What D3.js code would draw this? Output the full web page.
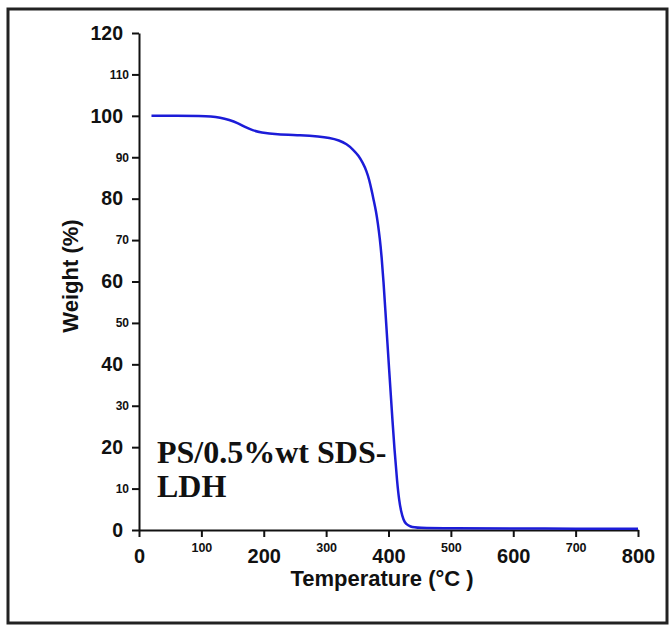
<!DOCTYPE html>
<html>
  <head>
    <script src="https://d3js.org/d3.v7.min.js"></script>
    <style>
      body { margin: 0; background: #fff; }
      svg { display: block; }
    </style>
  </head>
  <body>
    <div id="chart"></div>
    <script>
      // TGA curve
      const temperature = [20, 60, 100, 115, 130, 145, 158, 170, 182, 195, 220, 260, 289, 305, 321, 333, 343, 352, 359, 365, 369, 373, 376, 380, 383, 386, 389, 392, 395, 398, 401, 405, 409.6, 414, 417, 420, 424, 428, 435, 445, 500, 600, 700, 800];
      const weight = [100, 100, 100, 99.9, 99.6, 99.0, 98.3, 97.3, 96.5, 96.0, 95.5, 95.3, 95.0, 94.7, 94.1, 93.2, 91.9, 90.4, 88.6, 86.6, 84.6, 82.0, 79.8, 77.0, 74.0, 70.5, 66.0, 60.0, 53.0, 45.8, 38.8, 29.5, 19.3, 11.3, 7.2, 4.6, 2.4, 1.4, 0.8, 0.5, 0.4, 0.4, 0.3, 0.3];

      const xTicks = [0, 100, 200, 300, 400, 500, 600, 700, 800];
      const yTicks = [0, 10, 20, 30, 40, 50, 60, 70, 80, 90, 100, 110, 120];
      const label = ["PS/0.5%wt SDS-", "LDH"];

      const W = 669, H = 629;
      const margin = { top: 33, right: 31, bottom: 99, left: 139 };

      const svg = d3.select("#chart").append("svg")
        .attr("width", W)
        .attr("height", H);

      // outer frame
      svg.append("rect")
        .attr("x", 8).attr("y", 9)
        .attr("width", 659).attr("height", 614)
        .attr("fill", "none")
        .attr("stroke", "#222")
        .attr("stroke-width", 3);

      const x = d3.scaleLinear().domain([0, 800]).range([margin.left, W - margin.right]);
      const y = d3.scaleLinear().domain([0, 120]).range([H - margin.bottom, margin.top]);

      const sans = "'Liberation Sans', Arial, sans-serif";

      // x axis
      const gx = svg.append("g")
        .attr("transform", `translate(0,${y(0)})`)
        .call(d3.axisBottom(x).tickValues(xTicks).tickSize(7).tickSizeOuter(0));
      gx.selectAll("text")
        .attr("font-family", sans)
        .attr("font-weight", "bold")
        .attr("fill", "#111")
        .attr("dy", 0)
        .attr("y", d => (d % 200 === 0 ? 33 : 22))
        .attr("font-size", d => (d % 200 === 0 ? "20px" : "12.5px"));

      // y axis
      const gy = svg.append("g")
        .attr("transform", `translate(${x(0)},0)`)
        .call(d3.axisLeft(y).tickValues(yTicks).tickSize(7).tickSizeOuter(0));
      gy.selectAll("text")
        .attr("font-family", sans)
        .attr("font-weight", "bold")
        .attr("fill", "#111")
        .attr("x", d => (d % 20 === 0 ? -16 : -10))
        .attr("font-size", d => (d % 20 === 0 ? "19.5px" : "12px"));

      svg.selectAll(".domain, .tick line")
        .attr("stroke", "#111")
        .attr("stroke-width", 2);

      // curve
      const pts = temperature.map((t, i) => [t, weight[i]]);
      svg.append("path")
        .datum(pts)
        .attr("fill", "none")
        .attr("stroke", "#1c1cd8")
        .attr("stroke-width", 2.5)
        .attr("d", d3.line()
          .x(d => x(d[0]))
          .y(d => y(d[1]))
          .curve(d3.curveBasis));

      // axis titles
      svg.append("text")
        .attr("x", 382)
        .attr("y", 586)
        .attr("text-anchor", "middle")
        .attr("font-family", sans)
        .attr("font-weight", "bold")
        .attr("font-size", "22px")
        .attr("fill", "#111")
        .text("Temperature (°C )");

      svg.append("text")
        .attr("transform", "translate(78,276) rotate(-90)")
        .attr("text-anchor", "middle")
        .attr("font-family", sans)
        .attr("font-weight", "bold")
        .attr("font-size", "22px")
        .attr("fill", "#111")
        .text("Weight (%)");

      // sample label
      svg.append("g")
        .selectAll("text")
        .data(label)
        .join("text")
        .attr("x", 157)
        .attr("y", (d, i) => 463 + i * 34)
        .attr("font-family", "'Liberation Serif', 'Times New Roman', serif")
        .attr("font-weight", "bold")
        .attr("font-size", "32px")
        .attr("fill", "#111")
        .text(d => d);
    </script>
  </body>
</html>
